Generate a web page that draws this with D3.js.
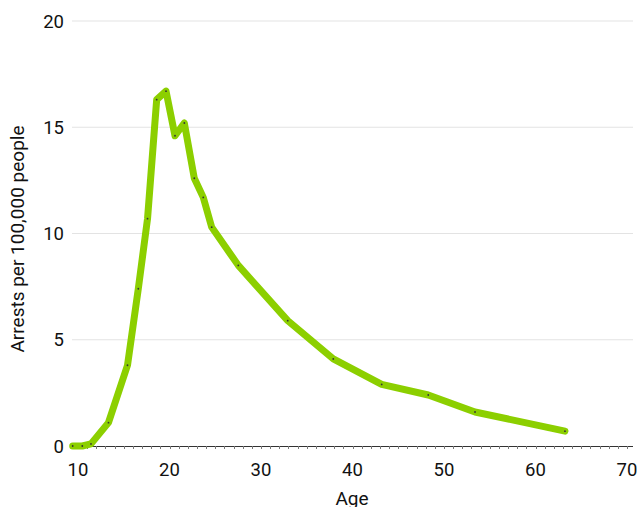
<!DOCTYPE html>
<html><head><meta charset="utf-8">
<script src="https://cdn.jsdelivr.net/npm/d3@7"></script>
<style>body{margin:0;background:#fff}svg{display:block}text{font-family:Roboto,sans-serif;fill:#111}</style>
</head><body><svg id="c" width="641" height="507"></svg>
<script>
const ages = [9.42,10.47,11.42,13.33,15.41,16.59,17.6,18.6,19.62,20.6,21.62,22.71,23.69,24.61,27.52,32.92,37.9,43.19,48.28,53.39,63.22];
const arrests = [0,0,0.1,1.1,3.8,7.4,10.7,16.3,16.7,14.6,15.2,12.6,11.7,10.3,8.5,5.9,4.1,2.9,2.4,1.6,0.7];
const xTicks = [10,20,30,40,50,60,70];
const yTicks = [0,5,10,15,20];
const xLabel = "Age", yLabel = "Arrests per 100,000 people";

const svg = d3.select("#c");
const x = d3.scaleLinear().domain([10,70]).range([78,627]);
const y = d3.scaleLinear().domain([0,20]).range([446,21]);
const L = 72, R = 633;

svg.append("g").selectAll("line").data(yTicks.filter(d=>d>0)).join("line")
  .attr("x1",L).attr("x2",R).attr("y1",d=>y(d)).attr("y2",d=>y(d))
  .attr("stroke","#e3e3e3").attr("stroke-width",1);
svg.append("line").attr("x1",L).attr("x2",R).attr("y1",y(0)+0.5).attr("y2",y(0)+0.5)
  .attr("stroke","#333").attr("stroke-width",1);
svg.append("g").selectAll("line").data(d3.range(10,71,1)).join("line")
  .attr("x1",d=>Math.round(x(d))+0.5).attr("x2",d=>Math.round(x(d))+0.5)
  .attr("y1",y(0)).attr("y2",y(0)+3).attr("stroke","#777").attr("stroke-width",1);

svg.append("g").selectAll("text").data(yTicks).join("text")
  .attr("x",64).attr("y",d=>y(d)).attr("dy","0.36em").attr("text-anchor","end")
  .attr("font-size",18.5).text(d=>d);
svg.append("g").selectAll("text").data(xTicks).join("text")
  .attr("x",d=>x(d)).attr("y",476).attr("text-anchor","middle")
  .attr("font-size",18.5).text(d=>d);
svg.append("text").attr("x",352).attr("y",505).attr("text-anchor","middle").attr("font-size",19).text(xLabel);
svg.append("text").attr("transform","translate(24,239) rotate(-90)").attr("text-anchor","middle")
  .attr("font-size",19).text(yLabel);

const data = ages.map((a,i)=>({a, v:arrests[i]}));
svg.append("path").datum(data)
  .attr("d", d3.line().x(d=>x(d.a)).y(d=>y(d.v)))
  .attr("fill","none").attr("stroke","#8ccf00").attr("stroke-width",7)
  .attr("stroke-linejoin","round").attr("stroke-linecap","round");
svg.append("g").selectAll("circle").data(data).join("circle")
  .attr("cx",d=>x(d.a)).attr("cy",d=>y(d.v)).attr("r",0.9).attr("fill","#333");
</script></body></html>
